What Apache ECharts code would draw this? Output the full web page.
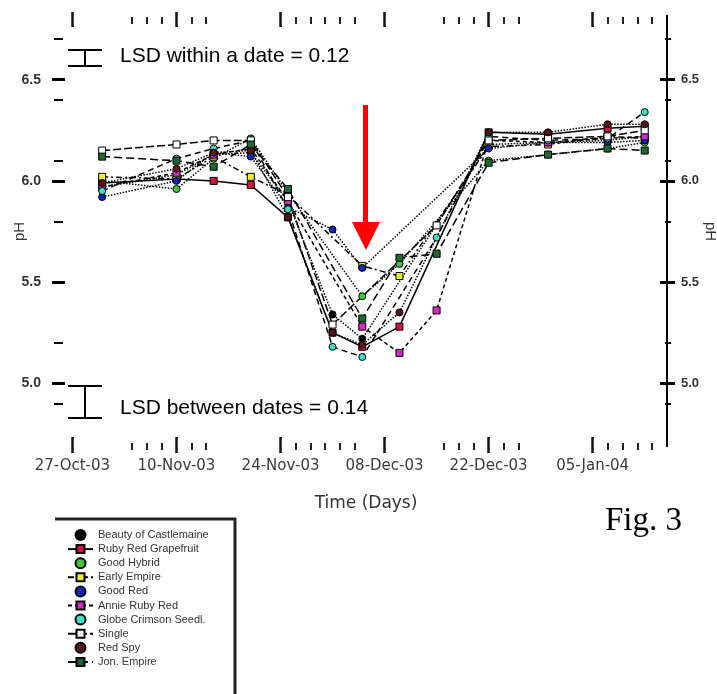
<!DOCTYPE html>
<html>
<head>
<meta charset="utf-8">
<script src="https://cdn.jsdelivr.net/npm/echarts@6/dist/echarts.min.js"></script>
<style>html,body{margin:0;padding:0;background:#fff}#c{width:717px;height:694px}</style>
</head>
<body>
<div id="c"></div>
<script>
// ---- data ----
const days = [4, 14, 19, 24, 29, 35, 39, 44, 49, 56, 64, 72, 77];
const seriesNames = ['Beauty of Castlemaine', 'Ruby Red Grapefruit', 'Good Hybrid', 'Early Empire', 'Good Red',
  'Annie Ruby Red', 'Globe Crimson Seedl.', 'Single', 'Red Spy', 'Jon. Empire'];
const sBlack   = [5.97, 6.03, 6.13, 6.14, 5.90, 5.34, 5.22, null, null, 6.18, 6.19, 6.20, 6.22];
const sRed     = [5.99, 6.01, 6.00, 5.98, 5.82, 5.25, 5.18, 5.28, null, 6.24, 6.23, 6.26, 6.27];
const sGreen   = [6.00, 5.96, 6.11, 6.21, 5.94, null, 5.43, 5.59, null, 6.10, 6.13, 6.16, 6.19];
const sYellow  = [6.02, 6.01, 6.12, 6.02, 5.93, null, 5.58, 5.53, null, 6.17, 6.18, 6.22, 6.21];
const sBlue    = [5.92, 6.00, 6.14, 6.12, 5.87, 5.76, 5.57, null, null, 6.16, 6.19, 6.19, 6.20];
const sMagenta = [5.97, 6.04, 6.13, 6.16, 5.90, null, 5.28, 5.15, 5.36, 6.20, 6.19, 6.21, 6.22];
const sCyan    = [5.95, 6.11, 6.16, 6.20, 5.86, 5.18, 5.13, null, 5.72, 6.22, 6.20, 6.21, 6.34];
const sWhite   = [6.15, 6.18, 6.20, 6.20, 5.92, 5.29, null, null, 5.78, 6.20, 6.21, 6.22, 6.25];
const sBrown   = [5.99, 6.06, 6.14, 6.15, 5.82, 5.25, 5.19, 5.35, null, 6.24, 6.24, 6.28, 6.28];
const sDkGreen = [6.12, 6.10, 6.07, 6.18, 5.96, null, 5.32, 5.62, 5.64, 6.09, 6.13, 6.16, 6.15];

const xMajorTicks = [0, 14, 28, 42, 56, 70];
const xTickLabels = ['27-Oct-03', '10-Nov-03', '24-Nov-03', '08-Dec-03', '22-Dec-03', '05-Jan-04'];
const xMinorTicks = [8, 10, 12, 16, 18, 30, 32, 34, 36, 38, 50, 52, 54, 58, 60, 72, 74, 76, 78];
const yMajorTicks = [5.0, 5.5, 6.0, 6.5];
const yMinorTicks = [4.9, 5.2, 5.8, 6.1, 6.4, 6.7];

// ---- styles ----
const allVals = [sBlack, sRed, sGreen, sYellow, sBlue, sMagenta, sCyan, sWhite, sBrown, sDkGreen];
const colors = ['#000000', '#d8103a', '#3cc83a', '#f2f020', '#1226b8', '#d428c8', '#3ee0cc', '#ffffff', '#5a1414', '#1c6a30'];
const lineTypes = ['dotted', 'solid', 'dotted', [6, 3, 2, 3], 'dotted', [4, 3], [6, 4], [8, 3], 'dotted', [8, 4]];
const symbols = ['circle', 'rect', 'circle', 'rect', 'circle', 'rect', 'circle', 'rect', 'circle', 'rect'];

function pairs(vals) {
  const out = [];
  days.forEach((d, i) => { if (vals[i] != null) out.push([d, vals[i]]); });
  return out;
}

const series = allVals.map((v, i) => ({
  name: seriesNames[i],
  type: 'line',
  xAxisIndex: 0, yAxisIndex: 0,
  data: pairs(v),
  symbol: symbols[i],
  symbolSize: 7,
  itemStyle: { color: colors[i], borderColor: '#000', borderWidth: 1 },
  lineStyle: { color: '#000', width: 1.5, type: lineTypes[i] },
  emphasis: { disabled: true },
  animation: false
}));

const labelFont = { fontFamily: 'DejaVu Sans', fontSize: 15, color: '#3a3a3a' };
function tickAxis(extra) {
  return Object.assign({
    type: 'value', min: -1, max: 80, gridIndex: 0,
    axisLine: { show: false, onZero: false }, splitLine: { show: false }, axisLabel: { show: false }
  }, extra);
}
function yTickAxis(extra) {
  return Object.assign({
    type: 'value', min: 4.7, max: 6.8, gridIndex: 0,
    axisLine: { show: false, onZero: false }, splitLine: { show: false }, axisLabel: { show: false }
  }, extra);
}

const chart = echarts.init(document.getElementById('c'), null, { renderer: 'canvas' });
chart.setOption({
  backgroundColor: '#fff',
  animation: false,
  grid: { left: 65, right: 50, top: 19, bottom: 250, containLabel: false, outerBoundsMode: 'none' },
  xAxis: [
    tickAxis({
      position: 'bottom', offset: -7,
      axisTick: { show: true, customValues: xMajorTicks, length: 16, lineStyle: { color: '#111', width: 2.5 } },
      axisLabel: {
        show: true, customValues: xMajorTicks, margin: 22,
        formatter: v => xTickLabels[xMajorTicks.indexOf(Math.round(v))] || '',
        ...labelFont
      },
      name: 'Time (Days)', nameLocation: 'middle', nameGap: 58, nameMoveOverlap: false,
      nameTextStyle: { fontFamily: 'DejaVu Sans', fontSize: 17, color: '#333' }
    }),
    tickAxis({ position: 'bottom', offset: -1,
      axisTick: { show: true, customValues: xMinorTicks, length: 7, lineStyle: { color: '#222', width: 2 } } }),
    tickAxis({ position: 'top', offset: -8,
      axisTick: { show: true, customValues: xMajorTicks, length: 15, lineStyle: { color: '#111', width: 2.5 } } }),
    tickAxis({ position: 'top', offset: -5,
      axisTick: { show: true, customValues: xMinorTicks, length: 7, lineStyle: { color: '#222', width: 2 } } })
  ],
  yAxis: [
    yTickAxis({
      position: 'left',
      axisTick: { show: true, customValues: yMajorTicks, length: 13, lineStyle: { color: '#000', width: 3 } },
      axisLabel: { show: true, customValues: yMajorTicks, margin: 24, formatter: v => v.toFixed(1),
        fontFamily: 'Liberation Sans', fontSize: 14, fontWeight: 'bold', color: '#333' },
      name: 'pH', nameLocation: 'middle', nameGap: 38, nameMoveOverlap: false,
      nameTextStyle: { fontFamily: 'Liberation Sans', fontSize: 15, color: '#333' }
    }),
    yTickAxis({ position: 'left', offset: 2,
      axisTick: { show: true, customValues: yMinorTicks, length: 9, lineStyle: { color: '#000', width: 2 } } }),
    yTickAxis({ position: 'right', offset: 0,
      axisLine: { show: true, onZero: false, lineStyle: { color: '#000', width: 2 } },
      axisTick: { show: false },
      name: 'pH', nameLocation: 'middle', nameGap: 36, nameRotate: -90, nameMoveOverlap: false,
      nameTextStyle: { fontFamily: 'Liberation Sans', fontSize: 15, color: '#333' } }),
    yTickAxis({ position: 'right', offset: -7,
      axisTick: { show: true, customValues: yMajorTicks, length: 15, lineStyle: { color: '#000', width: 3 } },
      axisLabel: { show: true, customValues: yMajorTicks, margin: 21, formatter: v => v.toFixed(1),
        fontFamily: 'Liberation Sans', fontSize: 13, fontWeight: 'bold', color: '#333' } }),
    yTickAxis({ position: 'right', offset: -2,
      axisTick: { show: true, customValues: yMinorTicks, length: 6, lineStyle: { color: '#000', width: 2 } } })
  ],
  legend: {
    orient: 'vertical', left: 67, top: 529, padding: 0,
    itemWidth: 25, itemHeight: 10, itemGap: 2.6,
    textStyle: { fontFamily: 'Liberation Sans', fontSize: 11, color: '#333' },
    selectedMode: false,
    data: seriesNames.map((n, i) => (i % 2 === 0 ? { name: n, icon: 'circle' } : { name: n }))
  },
  graphic: [
    // LSD within a date
    { type: 'line', shape: { x1: 68, y1: 50, x2: 102, y2: 50 }, style: { stroke: '#000', lineWidth: 2 } },
    { type: 'line', shape: { x1: 68, y1: 66, x2: 102, y2: 66 }, style: { stroke: '#000', lineWidth: 2 } },
    { type: 'line', shape: { x1: 85, y1: 50, x2: 85, y2: 66 }, style: { stroke: '#000', lineWidth: 2 } },
    { type: 'text', style: { x: 120, y: 56, text: 'LSD within a date = 0.12', fill: '#000',
      font: '21px "Liberation Sans"', verticalAlign: 'middle', textVerticalAlign: 'middle' } },
    // LSD between dates
    { type: 'line', shape: { x1: 68, y1: 386, x2: 102, y2: 386 }, style: { stroke: '#000', lineWidth: 2 } },
    { type: 'line', shape: { x1: 68, y1: 418, x2: 102, y2: 418 }, style: { stroke: '#000', lineWidth: 2 } },
    { type: 'line', shape: { x1: 85, y1: 386, x2: 85, y2: 418 }, style: { stroke: '#000', lineWidth: 2 } },
    { type: 'text', style: { x: 120, y: 408, text: 'LSD between dates = 0.14', fill: '#000',
      font: '21px "Liberation Sans"', verticalAlign: 'middle', textVerticalAlign: 'middle' } },
    // red arrow
    { type: 'rect', shape: { x: 363, y: 105, width: 5, height: 118 }, style: { fill: '#ff0000' } },
    { type: 'polygon', shape: { points: [[352, 222], [380, 222], [366, 250]] }, style: { fill: '#ff0000' } },
    // Fig. 3
    { type: 'text', style: { x: 605, y: 521, text: 'Fig. 3', fill: '#000',
      font: '33px "Liberation Serif"', verticalAlign: 'middle', textVerticalAlign: 'middle' } },
    // legend frame (top and right edges)
    { type: 'line', shape: { x1: 55, y1: 519, x2: 236, y2: 519 }, style: { stroke: '#222', lineWidth: 3 } },
    { type: 'line', shape: { x1: 235, y1: 518, x2: 235, y2: 694 }, style: { stroke: '#222', lineWidth: 3 } },
    // right axis line extension (top/bottom beyond plot)
    { type: 'line', shape: { x1: 667, y1: 15, x2: 667, y2: 447 }, style: { stroke: '#000', lineWidth: 2 } }
  ],
  series: series
});
</script>
</body>
</html>
